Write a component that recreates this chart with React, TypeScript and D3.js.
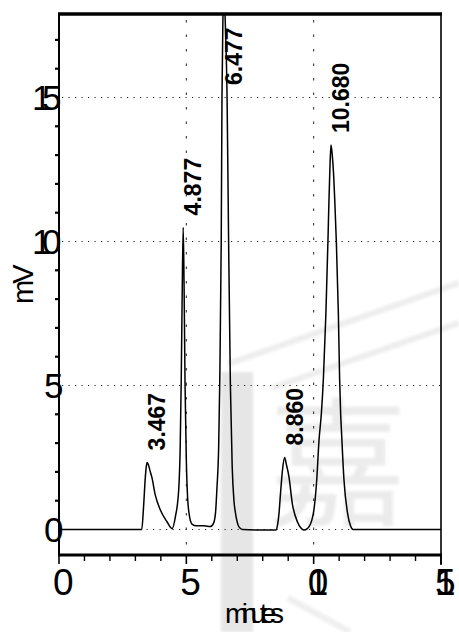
import React from 'react';
import * as d3 from 'd3';

// Retention-time annotations (minutes) and apex heights (mV)
const peakTimes = [3.467, 4.877, 6.477, 8.86, 10.68];
const peakLabels = ['3.467', '4.877', '6.477', '8.860', '10.680'];
const peakHeights = [2.33, 10.49, 19.3, 2.5, 13.35];

// Detector trace: time (min) and signal (mV)
const traceTime = [
  0, 3.25, 3.32, 3.39, 3.43, 3.467, 3.52, 3.58, 3.65, 3.78, 3.98, 4.24, 4.44,
  4.57, 4.7, 4.76, 4.8, 4.84, 4.877, 4.91, 4.95, 5.0, 5.05, 5.1, 5.22, 5.4,
  5.7, 5.94, 6.07, 6.15, 6.2, 6.27, 6.31, 6.37, 6.4, 6.44, 6.477, 6.52, 6.6,
  6.66, 6.73, 6.8, 6.87, 6.93, 7.0, 7.06, 7.2, 8.0, 8.52, 8.58, 8.64, 8.7,
  8.78, 8.86, 8.93, 9.03, 9.16, 9.36, 9.5, 9.62, 9.75, 9.82, 9.92, 10.01,
  10.12, 10.21, 10.3, 10.38, 10.48, 10.56, 10.6, 10.64, 10.68, 10.73, 10.79,
  10.83, 10.89, 10.97, 11.02, 11.06, 11.09, 11.19, 11.33, 11.45, 11.55, 15,
];
const traceMv = [
  0, 0, 0.78, 1.82, 2.2, 2.33, 2.22, 2.02, 1.8, 1.2, 0.68, 0.27, 0.03,
  0.44, 1.37, 2.9, 5.2, 8.4, 10.49, 8.6, 5.0, 2.4, 1.1, 0.6, 0.19, 0.13,
  0.13, 0.1, 0.22, 0.62, 1.4, 2.9, 5.0, 10.0, 15.0, 17.9, 19.3, 17.9, 15.0,
  10.0, 5.0, 2.2, 1.0, 0.57, 0.25, 0.1, 0.0, -0.02, -0.02, 0.15, 0.57, 1.27,
  2.1, 2.5, 2.25, 1.83, 0.91, 0.27, 0.05, -0.02, 0.03, 0.1, 0.3, 0.68,
  1.72, 3.1, 4.0, 5.2, 7.5, 10.0, 11.4, 12.6, 13.35, 13.0, 12.2,
  11.4, 10.0, 7.5, 5.2, 4.0, 3.45, 1.72, 0.57, 0.12, 0.0, 0,
];

const xTicks = [0, 5, 10, 15];
const xTickLabels = ['0', '5', '10', '15'];
const yTicks = [0, 5, 10, 15];
const yTickLabels = ['0', '5', '10', '15'];
const xMinor = d3.range(1, 15).filter((v) => v % 5 !== 0);
const yMinor = d3.range(1, 18).filter((v) => v % 5 !== 0);

const W = 459;
const H = 632;
const left = 59;
const right = 441;
const top = 14;
const bottom = 555;

const FONT = "'Liberation Sans', Arial, sans-serif";

export default function App() {
  const x = d3.scaleLinear().domain([0, 15]).range([left, right]);
  const y = d3.scaleLinear().domain([0, 15]).range([529.5, 97.5]);

  const points: [number, number][] = traceTime.map((t, i) => [t, traceMv[i]]);
  const line = d3
    .line<[number, number]>()
    .x((d) => x(d[0]))
    .y((d) => y(d[1]))
    .curve(d3.curveMonotoneX);

  return (
    <svg
      width={W}
      height={H}
      style={{ position: 'absolute', left: 0, top: 0, background: '#fff' }}
    >
      <defs>
        <clipPath id="plot">
          <rect x={left} y={top} width={right - left} height={bottom - top} />
        </clipPath>
        <filter id="soft" x="-10%" y="-10%" width="120%" height="120%">
          <feGaussianBlur stdDeviation="1.5" />
        </filter>
      </defs>

      {/* faint background mark */}
      <g filter="url(#soft)">
        <rect x={221} y={372} width={32} height={260} fill="#e6e6e6" />
        <line x1={228} y1={364} x2={459} y2={283} stroke="#ededed" strokeWidth={6} />
        <line x1={272} y1={388} x2={459} y2={323} stroke="#ededed" strokeWidth={6} />
        <line x1={288} y1={598} x2={350} y2={632} stroke="#efefef" strokeWidth={6} />
        <text
          x={338}
          y={515}
          fontSize={140}
          textAnchor="middle"
          fill="#ebebeb"
          fontFamily="'Noto Sans CJK SC', sans-serif"
        >
          嘉
        </text>
      </g>

      {/* dotted grid */}
      <g stroke="#222" strokeWidth={1}>
        {yTicks.map((v) => (
          <line
            key={'gy' + v}
            x1={left + 3}
            x2={right}
            y1={y(v)}
            y2={y(v)}
            strokeDasharray="1.2 5.3"
          />
        ))}
        {xTicks
          .filter((v) => v > 0 && v < 15)
          .map((v) => (
            <line
              key={'gx' + v}
              x1={x(v)}
              x2={x(v)}
              y1={top + 6}
              y2={bottom}
              strokeDasharray="2.5 12"
            />
          ))}
      </g>

      {/* chromatogram trace */}
      <path
        d={line(points) ?? ''}
        fill="none"
        stroke="#000"
        strokeWidth={1.5}
        strokeLinejoin="round"
        clipPath="url(#plot)"
      />

      {/* frame and axes */}
      <g stroke="#000" strokeLinecap="butt">
        <line x1={left - 1} x2={right + 1} y1={top} y2={top} strokeWidth={3.5} />
        <line x1={left} x2={left} y1={top} y2={bottom} strokeWidth={2} />
        <line x1={right} x2={right} y1={top} y2={bottom + 10} strokeWidth={1.6} />
        <line x1={left - 1} x2={right + 1} y1={bottom} y2={bottom} strokeWidth={3} />
        {xMinor.map((v) => (
          <line key={'xm' + v} x1={x(v)} x2={x(v)} y1={bottom} y2={bottom + 6} strokeWidth={1.4} />
        ))}
        {xTicks.map((v) => (
          <line key={'xM' + v} x1={x(v)} x2={x(v)} y1={bottom} y2={bottom + 9} strokeWidth={1.6} />
        ))}
        {yMinor.map((v) => (
          <line key={'ym' + v} x1={left - 4} x2={left} y1={y(v)} y2={y(v)} strokeWidth={2.2} />
        ))}
      </g>

      {/* tick labels */}
      <g fontFamily={FONT} fontSize={37} fill="#000">
        {xTicks.map((v, i) => {
          const ox = x(v) - 6;
          const xs = xTickLabels[i].split('').map(() => ox).join(' ');
          return (
            <text key={'xl' + v} x={xs} y={595}>
              {xTickLabels[i]}
            </text>
          );
        })}
      </g>
      <g fontFamily={FONT} fontSize={35} fill="#000">
        {yTicks.map((v, i) => {
          const label = yTickLabels[i];
          const xs = label.length === 1 ? '44' : '32 42';
          return (
            <text key={'yl' + v} x={xs} y={y(v) + 12.5}>
              {label}
            </text>
          );
        })}
      </g>

      {/* axis titles */}
      <text
        x={225}
        y={623}
        fontFamily={FONT}
        fontSize={28}
        letterSpacing={-6.5}
        fill="#000"
      >
        minutes
      </text>
      <text
        transform="translate(33,304) rotate(-90)"
        fontFamily={FONT}
        fontSize={29}
        letterSpacing={-4}
        fill="#000"
      >
        mV
      </text>

      {/* retention-time labels */}
      <g fontFamily={FONT} fontSize={23} fontWeight="bold" fill="#000">
        {peakTimes.map((t, i) => {
          const px = x(t) + 18;
          const py = Math.max(y(peakHeights[i]) - 12, top + 71);
          return (
            <text key={'pk' + i} transform={`translate(${px},${py}) rotate(-90)`}>
              {peakLabels[i]}
            </text>
          );
        })}
      </g>
    </svg>
  );
}
